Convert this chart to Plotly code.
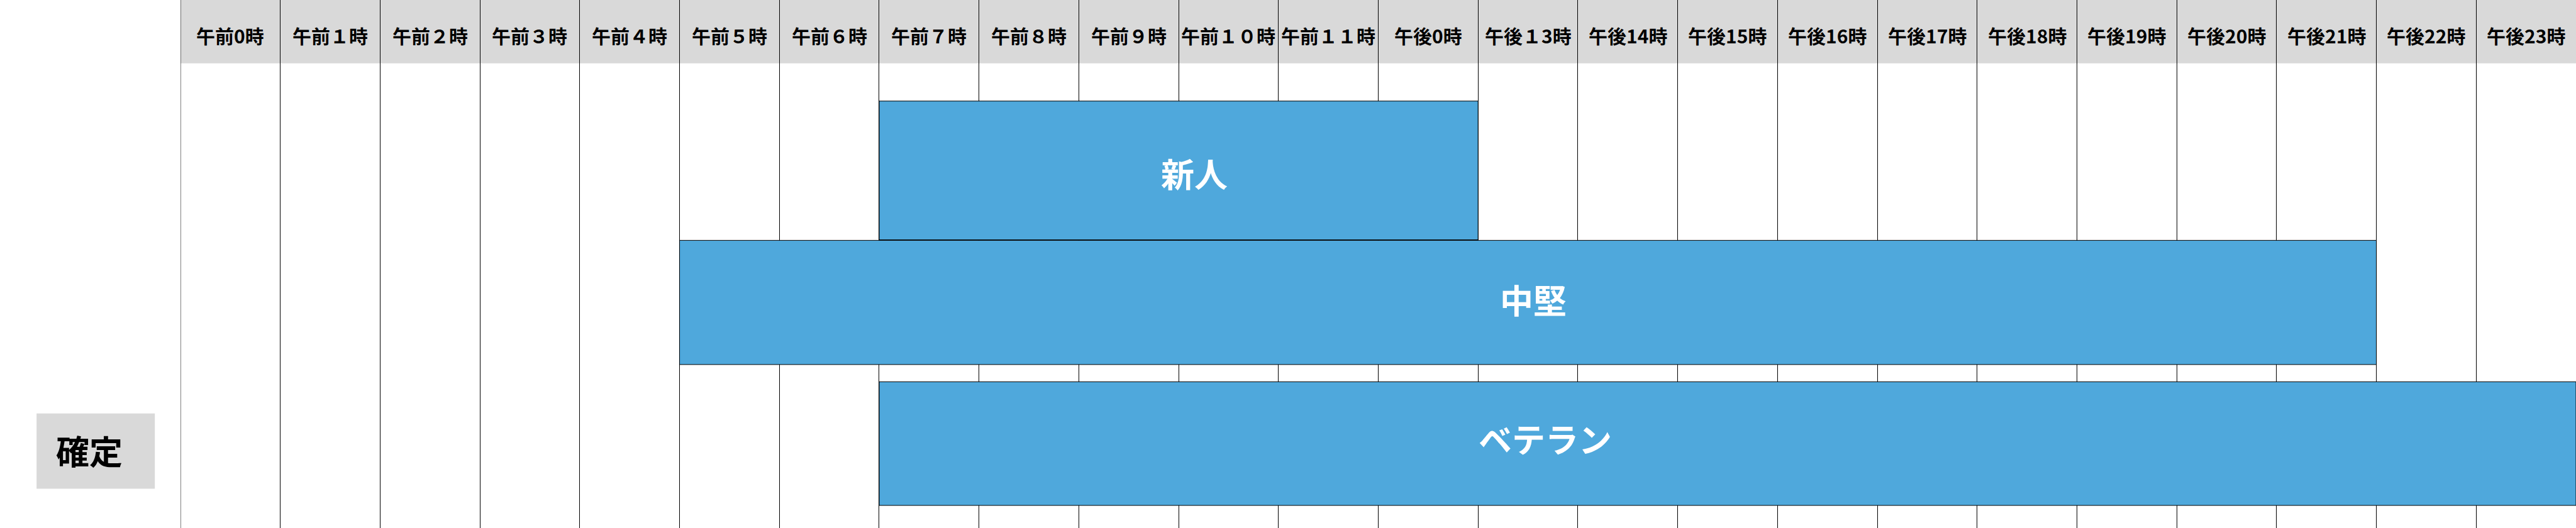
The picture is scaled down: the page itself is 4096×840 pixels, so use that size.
import plotly.graph_objects as go

# ---------------- data ----------------
hour_labels = ["午前0時", "午前１時", "午前２時", "午前３時", "午前４時", "午前５時",
               "午前６時", "午前７時", "午前８時", "午前９時", "午前１０時", "午前１１時",
               "午後0時", "午後１3時", "午後14時", "午後15時", "午後16時", "午後17時",
               "午後18時", "午後19時", "午後20時", "午後21時", "午後22時", "午後23時"]
roles = ["新人", "中堅", "ベテラン"]
start_hours = [7, 5, 7]
end_hours = [13, 22, 24]
status_label = "確定"

# ---------------- layout constants (reference pixel units) ----------------
W, H = 4096, 840
REF_W, REF_H = 4791, 982
PLOT_LEFT = 335.7            # left edge of the time grid in reference px
HEADER_BOTTOM = 117.7
HEADER_TEXT_Y = 65.5
ROW_CENTER = [317, 562.5, 825]
ROW_HEIGHT = [258, 231, 230]
LABEL_X_HOURS = [10.16, 13.55, 13.67]
LABEL_Y = [322, 556, 815]
BOX = dict(x0=68, x1=288, y0=769, y1=909)
BOX_TEXT = (166, 837)

BAR_COLOR = "#4FA8DC"
GRAY = "#D9D9D9"
FONT = "Noto Sans CJK JP"

fig = go.Figure()

fig.add_trace(go.Bar(
    orientation="h",
    y=ROW_CENTER,
    width=ROW_HEIGHT,
    base=start_hours,
    x=[e - s for s, e in zip(start_hours, end_hours)],
    marker=dict(color=BAR_COLOR, line=dict(color="black", width=1)),
    hoverinfo="skip",
    showlegend=False,
))

shapes = [
    dict(type="rect", xref="x", yref="y", x0=0, x1=len(hour_labels), y0=0, y1=HEADER_BOTTOM,
         fillcolor=GRAY, line=dict(width=0), layer="below"),
    dict(type="rect", xref="paper", yref="y", x0=BOX["x0"] / REF_W, x1=BOX["x1"] / REF_W,
         y0=BOX["y0"], y1=BOX["y1"], fillcolor=GRAY, line=dict(width=0), layer="below"),
    # grid line at the left boundary (0時), which plotly skips at the axis edge
    dict(type="line", xref="x", yref="y", x0=0, x1=0, y0=0, y1=REF_H,
         line=dict(color="black", width=1), layer="between"),
]

annotations = []
for i, lab in enumerate(hour_labels):
    annotations.append(dict(x=i + 0.5, y=HEADER_TEXT_Y, xref="x", yref="y", text=lab,
                            showarrow=False, font=dict(family=FONT, size=30, color="black", weight="bold"),
                            xanchor="center", yanchor="middle"))
for role, lx, ly in zip(roles, LABEL_X_HOURS, LABEL_Y):
    annotations.append(dict(x=lx, y=ly, xref="x", yref="y", text=role, showarrow=False,
                            font=dict(family=FONT, size=53, color="white", weight="bold"),
                            xanchor="center", yanchor="middle"))
annotations.append(dict(x=BOX_TEXT[0] / REF_W, y=BOX_TEXT[1], xref="paper", yref="y", text=status_label,
                        showarrow=False, font=dict(family=FONT, size=53, color="black", weight="bold"),
                        xanchor="center", yanchor="middle"))

fig.update_layout(
    width=W, height=H, autosize=False,
    margin=dict(l=0, r=0, t=0, b=0, pad=0),
    paper_bgcolor="white", plot_bgcolor="white",
    barmode="overlay",
    shapes=shapes, annotations=annotations,
    xaxis=dict(domain=[PLOT_LEFT / REF_W, 1], range=[0, len(hour_labels)], tick0=0, dtick=1,
               showgrid=True, gridcolor="black", gridwidth=1, zeroline=False,
               showticklabels=False, ticks="", showline=False, fixedrange=True),
    yaxis=dict(domain=[0, 1], range=[REF_H, 0], showgrid=False, zeroline=False,
               showticklabels=False, ticks="", showline=False, fixedrange=True),
)

fig.write_html("out.html",
               config={"displayModeBar": False},
               post_script="document.body.style.margin='0';document.body.style.overflow='hidden';")
